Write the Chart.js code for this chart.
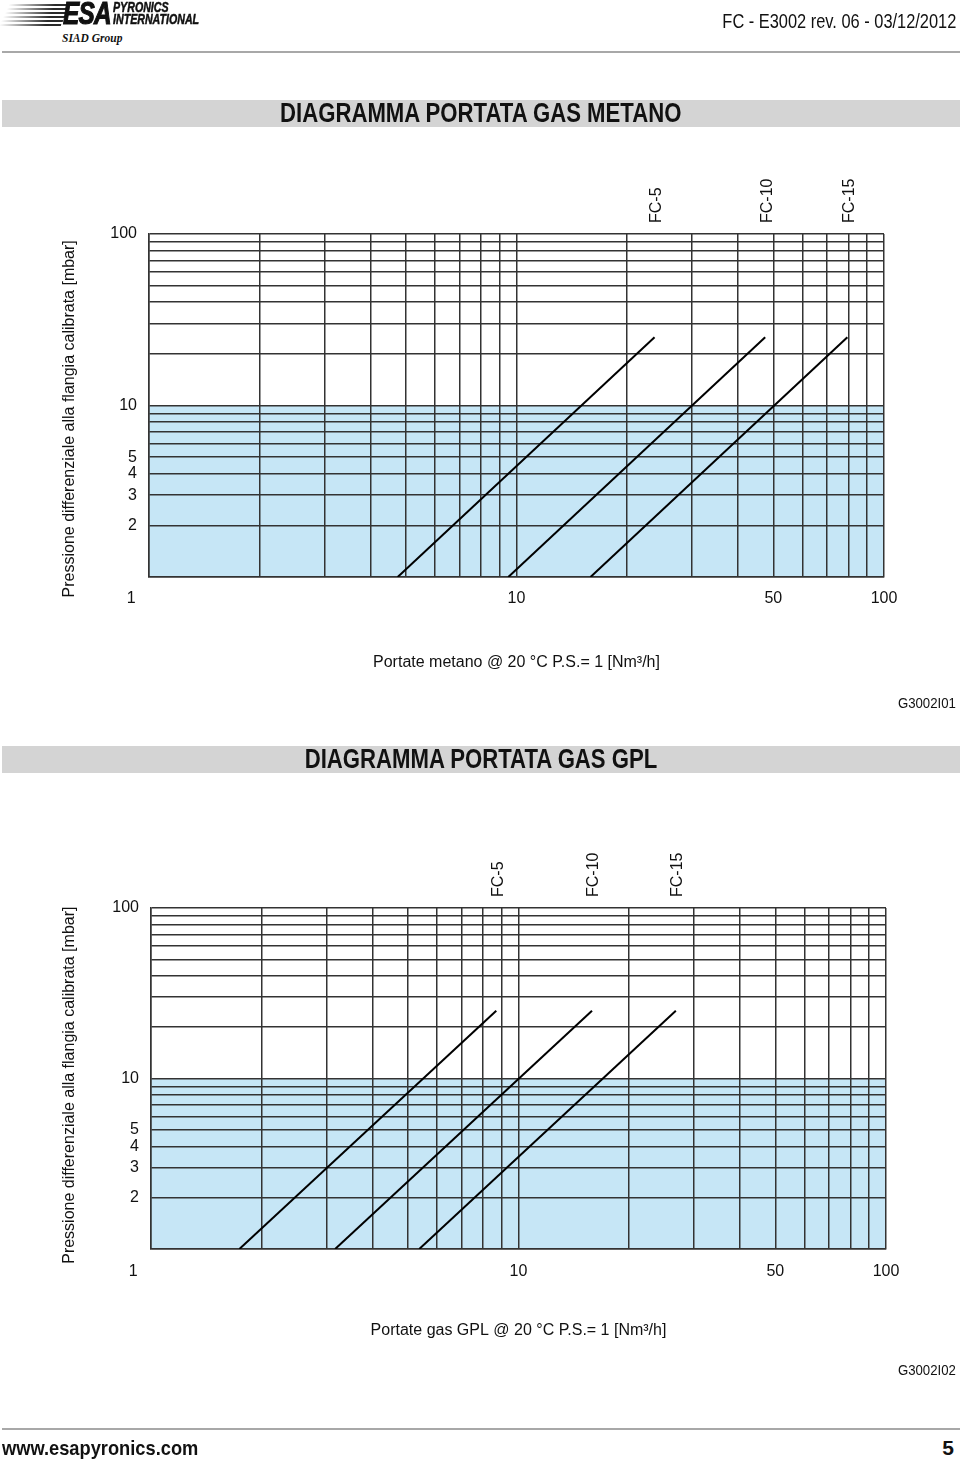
<!DOCTYPE html>
<html lang="it">
<head>
<meta charset="utf-8">
<title>FC - E3002 diagrammi portata</title>
<script src="https://cdn.jsdelivr.net/npm/chart.js@4.4.0/dist/chart.umd.min.js"></script>
<style>
  body { margin: 0; background: #fff; font-family: "Liberation Sans", Arial, sans-serif; color: #111; }
  #page { position: relative; width: 960px; height: 1459px; overflow: hidden; }
  .abs { position: absolute; white-space: nowrap; }
  /* no narrow face installed, squeeze the regular one */
  .sq { display: inline-block; transform: scaleX(0.82); }
  .stripes {
    left: 4px; top: 4px; width: 62px; height: 22px;
    background: repeating-linear-gradient(to bottom, #2a2a2a 0 2px, transparent 2px 4px);
    -webkit-mask-image: linear-gradient(to right, transparent 0%, #000 75%);
    mask-image: linear-gradient(to right, transparent 0%, #000 75%);
    transform: skewX(-25deg);
  }
  .esa { left: 63px; top: -4px; font-size: 32px; font-weight: bold; font-style: italic; letter-spacing: -1px; line-height: 34px; -webkit-text-stroke: 1.2px #111; }
  .esa .sq { transform: scaleX(0.76); transform-origin: left top; }
  .pyr { left: 113px; top: 2px; font-size: 14px; font-weight: bold; font-style: italic; line-height: 11.5px; -webkit-text-stroke: 0.5px #111; }
  .pyr .sq { transform: scaleX(0.76); transform-origin: left top; }
  .siad { left: 62px; top: 32px; font-family: "Liberation Serif", "Times New Roman", serif; font-size: 11.5px; font-weight: bold; font-style: italic; }
  .docref { right: 4px; top: 10px; font-size: 20px; }
  .docref .sq { transform-origin: right top; }
  .rule { left: 2px; width: 958px; height: 2px; background: #a8a8a8; }
  .bar { left: 2px; width: 958px; height: 27px; background: #d4d4d4; text-align: center; font-weight: bold; font-size: 27px; line-height: 27px; }
  .bar .sq { transform-origin: center top; }
  .code { right: 4px; font-size: 15px; }
  .code .sq { transform: scaleX(0.88); transform-origin: right top; }
  .foot { left: 2px; top: 1436px; font-size: 21px; font-weight: bold; }
  .foot .sq { transform: scaleX(0.87); transform-origin: left top; }
  .pagenum { right: 6px; top: 1436px; font-size: 21px; font-weight: bold; }
  canvas { position: absolute; left: 0; }
</style>
</head>
<body>
<div id="page">
  <div class="abs stripes"></div>
  <div class="abs esa"><span class="sq">ESA</span></div>
  <div class="abs pyr"><span class="sq">PYRONICS<br>INTERNATIONAL</span></div>
  <div class="abs siad">SIAD Group</div>
  <div class="abs docref"><span class="sq">FC - E3002 rev. 06 - 03/12/2012</span></div>
  <div class="abs rule" style="top:51px"></div>

  <div class="abs bar" style="top:100px"><span class="sq">DIAGRAMMA PORTATA GAS METANO</span></div>
  <canvas id="metanoChart" width="960" height="530" style="top:160px"></canvas>
  <div class="abs code" style="top:694px"><span class="sq">G3002I01</span></div>

  <div class="abs bar" style="top:746px"><span class="sq">DIAGRAMMA PORTATA GAS GPL</span></div>
  <canvas id="gplChart" width="960" height="530" style="top:830px"></canvas>
  <div class="abs code" style="top:1361px"><span class="sq">G3002I02</span></div>

  <div class="abs rule" style="top:1428px"></div>
  <div class="abs foot"><span class="sq">www.esapyronics.com</span></div>
  <div class="abs pagenum">5</div>
</div>

<script>
// grid of the log-log paper (both axes 1..100)
const gridTicks = [1, 2, 3, 4, 5, 6, 7, 8, 9, 10, 20, 30, 40, 50, 60, 70, 80, 90, 100];
const flowTickLabels = { 1: "1", 10: "10", 50: "50", 100: "100" };
const pressureTickLabels = { 2: "2", 3: "3", 4: "4", 5: "5", 10: "10", 100: "100" };

// flange models and their curves (flow [Nm3/h] at 1 and 25 mbar)
const models = ["FC-5", "FC-10", "FC-15"];
const pressureRange = [1, 25];
const metanoFlowStart = [4.75, 9.5, 15.9];
const metanoFlowEnd = [23.75, 47.5, 79.5];
const gplFlowStart = [1.74, 3.17, 5.37];
const gplFlowEnd = [8.7, 15.85, 26.8];

// light blue zone below 10 mbar
const bandLimit = 10;
const flowRange = [1, 100];

const yTitle = "Pressione differenziale alla flangia calibrata [mbar]";
const gridColor = "#333";
const textColor = "#111";
const bandColor = "#c6e6f6";
const tickFont = { family: "'Liberation Sans', Arial, sans-serif", size: 16 };

Chart.defaults.font.family = tickFont.family;
Chart.defaults.font.size = 16;
Chart.defaults.color = textColor;

// ➤ rotated model names above the end of each curve
const modelLabels = {
    id: "modelLabels",
    afterDatasetsDraw(chart) {
        const { ctx, chartArea, scales } = chart;
        ctx.save();
        ctx.font = "16px 'Liberation Sans', Arial, sans-serif";
        ctx.fillStyle = textColor;
        ctx.textAlign = "left";
        ctx.textBaseline = "middle";
        chart.data.datasets.forEach(ds => {
            if (!ds.isModel) return;
            const end = ds.data[ds.data.length - 1];
            const x = scales.x.getPixelForValue(end.x) + 2;
            ctx.save();
            ctx.translate(x, chartArea.top - 11);
            ctx.rotate(-Math.PI / 2);
            ctx.fillText(ds.label, 0, 0);
            ctx.restore();
        });
        ctx.restore();
    }
};

function makeChart(id, flowStart, flowEnd, xTitle, box) {
    const datasets = models.map((m, i) => ({
        label: m,
        isModel: true,
        data: [
            { x: flowStart[i], y: pressureRange[0] },
            { x: flowEnd[i], y: pressureRange[1] }
        ],
        showLine: true,
        borderColor: "#000",
        borderWidth: 2,
        pointRadius: 0,
        fill: false
    }));
    datasets.push({
        label: "band",
        data: [
            { x: flowRange[0], y: bandLimit },
            { x: flowRange[1], y: bandLimit }
        ],
        showLine: true,
        borderColor: "rgba(0,0,0,0)",
        borderWidth: 0,
        backgroundColor: bandColor,
        pointRadius: 0,
        fill: "start"
    });

    const grid = { color: gridColor, lineWidth: 1.5, drawTicks: false };
    const border = { display: true, color: gridColor, width: 1.5 };

    return new Chart(document.getElementById(id), {
        type: "scatter",
        data: { datasets },
        options: {
            responsive: false,
            animation: false,
            devicePixelRatio: 1,
            layout: { padding: box.padding },
            plugins: {
                legend: { display: false },
                tooltip: { enabled: false },
                filler: { drawTime: "beforeDraw" }
            },
            scales: {
                x: {
                    type: "logarithmic",
                    min: flowRange[0],
                    max: flowRange[1],
                    afterBuildTicks: axis => { axis.ticks = gridTicks.map(v => ({ value: v })); },
                    afterFit: axis => { axis.height = box.xAxisHeight; },
                    grid, border,
                    ticks: {
                        autoSkip: false,
                        maxRotation: 0,
                        padding: box.xTickPad,
                        font: tickFont,
                        // the corner "1" sits left of the origin, pad it with spaces
                        callback: v => v === 1 ? flowTickLabels[v] + "        " : (flowTickLabels[v] || "")
                    },
                    title: {
                        display: true,
                        text: xTitle,
                        font: tickFont,
                        padding: { top: 0, bottom: box.xTitlePad }
                    }
                },
                y: {
                    type: "logarithmic",
                    min: 1,
                    max: 100,
                    afterBuildTicks: axis => { axis.ticks = gridTicks.map(v => ({ value: v })); },
                    afterFit: axis => { axis.width = box.yAxisWidth; },
                    grid, border,
                    ticks: {
                        autoSkip: false,
                        padding: 12,
                        font: tickFont,
                        callback: v => pressureTickLabels[v] || ""
                    },
                    title: {
                        display: true,
                        // trailing spaces nudge the centred title a little lower
                        text: yTitle + box.yTitleShift,
                        font: tickFont,
                        padding: { top: 60, bottom: 0 }
                    }
                }
            }
        },
        plugins: [modelLabels]
    });
}

makeChart("metanoChart", metanoFlowStart, metanoFlowEnd,
    "Portate metano @ 20 °C P.S.= 1 [Nm³/h]",
    { padding: { left: 0, right: 76, top: 74, bottom: 13 }, yAxisWidth: 149, xAxisHeight: 100,
      xTickPad: 12, xTitlePad: 5, yTitleShift: "      " });

makeChart("gplChart", gplFlowStart, gplFlowEnd,
    "Portate gas GPL @ 20 °C P.S.= 1 [Nm³/h]",
    { padding: { left: 0, right: 74, top: 78, bottom: 11 }, yAxisWidth: 151, xAxisHeight: 100,
      xTickPad: 13, xTitlePad: 9, yTitleShift: "   " });
</script>
</body>
</html>
